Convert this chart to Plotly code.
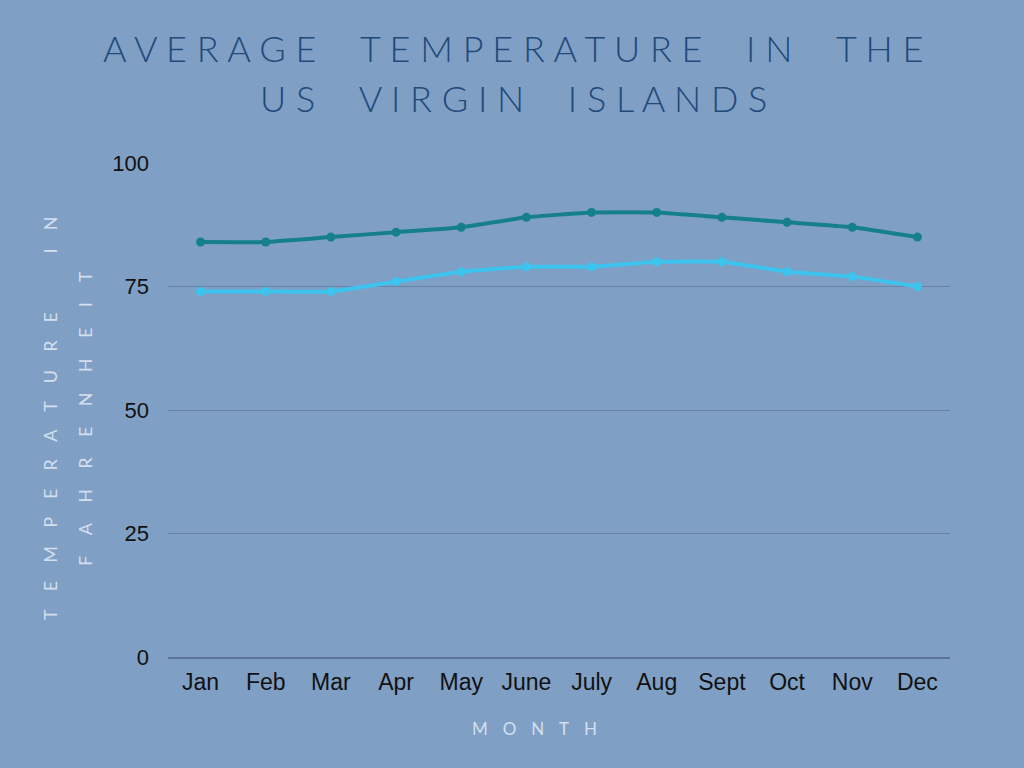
import plotly.graph_objects as go

months = ["Jan", "Feb", "Mar", "Apr", "May", "June", "July", "Aug", "Sept", "Oct", "Nov", "Dec"]
avg_high = [84, 84, 85, 86, 87, 89, 90, 90, 89, 88, 87, 85]
avg_low = [74, 74, 74, 76, 78, 79, 79, 80, 80, 78, 77, 75]
y_ticks = [0, 25, 50, 75, 100]

NB = "\u00a0"
EM = "\u2003"
THIN = "\u2009"


def spaced(s, letter_gap, word_gap):
    # wide letter spacing like the original design
    return word_gap.join(letter_gap.join(w) for w in s.split(" "))


bg = "#7f9fc4"
fig = go.Figure()
fig.add_trace(go.Scatter(x=months, y=avg_high, mode="lines+markers", name="High",
                         line=dict(color="#16808a", width=4, shape="spline", smoothing=0.4),
                         marker=dict(size=9, color="#16808a")))
fig.add_trace(go.Scatter(x=months, y=avg_low, mode="lines+markers", name="Low",
                         line=dict(color="#3cc4ee", width=4, shape="spline", smoothing=0.4),
                         marker=dict(size=9, color="#3cc4ee")))

fig.update_layout(
    width=1024, height=768,
    paper_bgcolor=bg, plot_bgcolor=bg,
    margin=dict(l=168, r=74, t=163, b=111),
    showlegend=False,
    font=dict(family="Liberation Sans, Arial", color="#111111", size=22),
    xaxis=dict(type="category", range=[-0.5, 11.5], showgrid=False, showline=True,
               linecolor="#5a7396", linewidth=1.5, ticks="", ticklabelstandoff=4,
               tickfont=dict(size=23, color="#111111")),
    yaxis=dict(range=[0, 100], tickvals=y_ticks, showgrid=True, gridcolor="#6782a8",
               gridwidth=1.2, zeroline=False, ticks="", ticklabelstandoff=18,
               tickfont=dict(size=22, color="#111111")),
)

title_font = dict(family="Lato, Open Sans, sans-serif", size=36, color="#1f4a7a", weight=300)
title_gap = NB * 4 + THIN
fig.add_annotation(text=spaced("AVERAGE TEMPERATURE IN THE", NB, title_gap), xref="paper", yref="paper",
                   x=0.5, y=1, xanchor="center", yanchor="middle", yshift=115, xshift=-46,
                   showarrow=False, font=title_font)
fig.add_annotation(text=spaced("US VIRGIN ISLANDS", NB, title_gap), xref="paper", yref="paper",
                   x=0.5, y=1, xanchor="center", yanchor="middle", yshift=65, xshift=-46,
                   showarrow=False, font=title_font)

axis_font = dict(family="Lato, Open Sans, sans-serif", size=18, color="#d3dfee")
fig.add_annotation(text=spaced("TEMPERATURE IN", EM + NB, EM * 4 + NB), xref="paper", yref="paper",
                   x=0, y=0.482, xanchor="center", yanchor="middle", xshift=-118,
                   textangle=-90, showarrow=False, font=axis_font)
fig.add_annotation(text=spaced("FAHRENHEIT", EM + NB + THIN, EM * 4 + NB), xref="paper", yref="paper",
                   x=0, y=0.482, xanchor="center", yanchor="middle", xshift=-83,
                   textangle=-90, showarrow=False, font=axis_font)
fig.add_annotation(text=spaced("MONTH", EM + THIN, EM), xref="paper", yref="paper",
                   x=0.469, y=0, xanchor="center", yanchor="middle", yshift=-71,
                   showarrow=False,
                   font=dict(family="Lato, Open Sans, sans-serif", size=17, color="#d3dfee"))

fig.write_html("out.html", config={"displayModeBar": False},
               post_script="document.body.style.margin='0';")
